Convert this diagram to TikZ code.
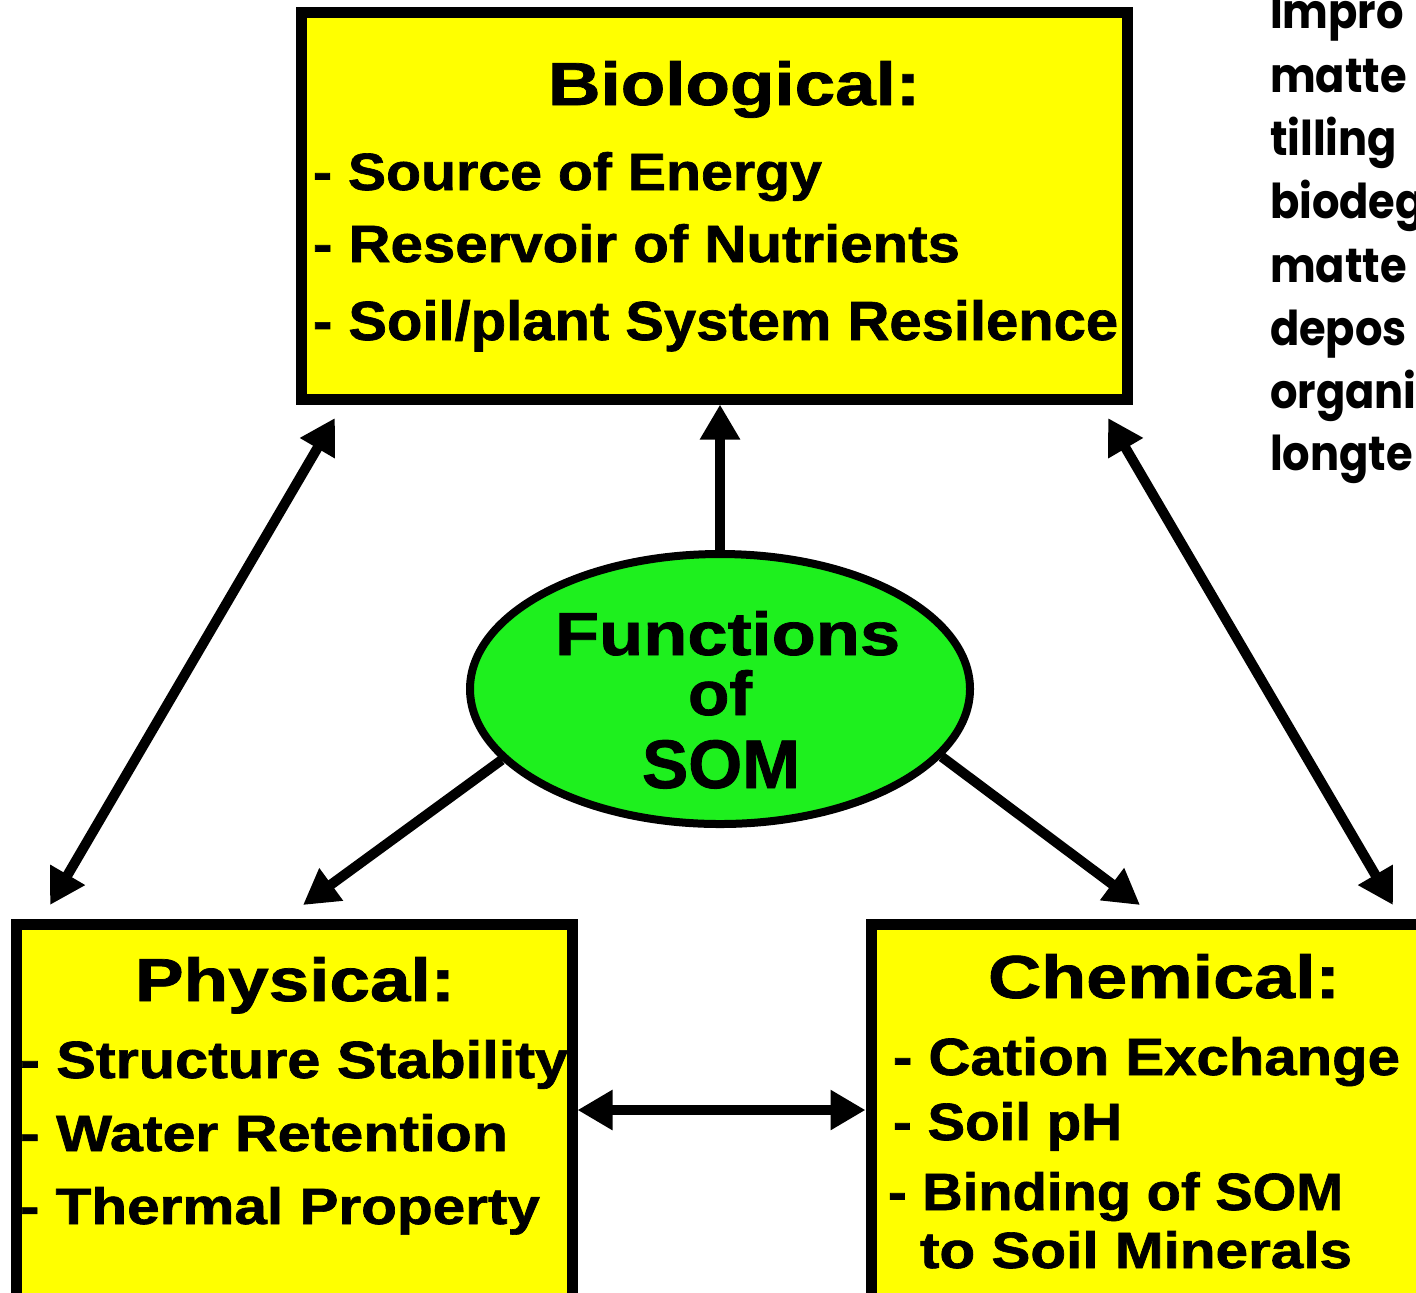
\documentclass[tikz,border=0pt]{standalone}
\usepackage{fontspec}
\usepackage{graphicx}
\usetikzlibrary{shapes.geometric,arrows.meta,calc}
\newfontfamily\boxfont{Liberation Sans}[BoldFeatures={FakeBold=1.2}]
\newfontfamily\handfont{Poppins}
\newlength\pxu \setlength\pxu{0.5pt}
\newcommand\fitt[3]{\resizebox{#1\pxu}{#2\pxu}{#3}}
\newcommand\narrow[1]{\scalebox{0.9}[1]{#1}}
\definecolor{boxyellow}{RGB}{255,255,0}
\definecolor{somgreen}{RGB}{30,240,30}
\begin{document}
\begin{tikzpicture}[x=0.5pt,y=-0.5pt,
 panel/.style={draw=black, fill=boxyellow, line width=5.5pt, inner sep=0pt, rectangle},
 somnode/.style={draw=black, fill=somgreen, line width=4pt, ellipse, inner sep=0pt, minimum width=250pt, minimum height=135pt},
 txt/.style={inner sep=0pt, outer sep=0pt, anchor=base west, font=\boxfont\bfseries},
 note/.style={inner sep=0pt, outer sep=0pt, anchor=base west, font=\handfont\bfseries\fontsize{24}{28}\selectfont},
 arr/.style={line width=5pt, -{Triangle[length=17.5pt,width=19pt]}},
 darr/.style={line width=5pt, {Triangle[length=17.5pt,width=19pt]}-{Triangle[length=17.5pt,width=19pt]}}
]
\useasboundingbox (0,0) rectangle (1416,1292);
\clip (0,0) rectangle (1416,1292);
\fill[white] (0,0) rectangle (1416,1292);

% boxes
\node[panel, minimum width=413pt, minimum height=193.5pt] (bio) at (714,205.5) {};
\node[panel, minimum width=278pt, minimum height=210pt] (phys) at (294,1134) {};
\node[panel, minimum width=300pt, minimum height=210pt] (chem) at (1171,1134) {};
\node[somnode] (som) at (720,689) {};

% connector end points
\coordinate (bioL) at ($(bio.south west)+(39.5,13.5)$);
\coordinate (physT) at ($(phys.north west)+(39.5,-13.5)$);
\coordinate (bioR) at ($(bio.south east)+(-24.5,13.5)$);
\coordinate (chemT) at ($(chem.north west)+(527.5,-13.5)$);
\coordinate (physIn) at ($(phys.north west)+(292.5,-13.5)$);
\coordinate (chemIn) at ($(chem.north west)+(274.5,-13.5)$);
\coordinate (physE) at ($(phys.north east)+(0,191.5)$);
\coordinate (chemW) at ($(chem.north west)+(0,191.5)$);

% connectors
\draw[arr] (som.north) -- (som.north |- bio.south);
\draw[arr] (som.198) -- (physIn);
\draw[arr] (som.343) -- (chemIn);
\draw[darr] (bioL) -- (physT);
\draw[darr] (bioR) -- (chemT);
\draw[darr] (physE) -- (chemW);

% biological text
\node[txt] (bioT) at (548,105) {\fitt{372}{44}{Biological:}};
\node[txt] (bio1) at (313,190) {\fitt{509}{38}{- Source of Energy}};
\node[txt] (bio2) at (313,262) {\fitt{647}{38}{- Reservoir of Nutrients}};
\node[txt] (bio3) at (313,340) {\fitt{805}{40}{- Soil/plant System Resilence}};

% physical text
\node[txt] (physTt) at (135,1001) {\fitt{320}{44}{Physical:}};
\node[txt] (phys1) at (20,1078) {\fitt{548}{38}{- Structure Stability}};
\node[txt] (phys2) at (20,1151) {\fitt{488}{37}{- Water Retention}};
\node[txt] (phys3) at (20,1224) {\fitt{520}{37}{- Thermal Property}};

% chemical text
\node[txt] (chemTt) at (988,998) {\fitt{352}{44}{Chemical:}};
\node[txt] (chem1) at (893,1075) {\fitt{507}{38}{- Cation Exchange}};
\node[txt] (chem2) at (893,1140) {\fitt{229}{38}{- Soil pH}};
\node[txt] (chem3) at (888,1210) {\fitt{455}{38}{- Binding of SOM}};
\node[txt] (chem4) at (920,1268) {\fitt{432}{37}{to Soil Minerals}};

% ellipse text
\node[txt] (somA) at (555,655) {\fitt{345}{44}{Functions}};
\node[txt] (somB) at (688,715) {\fitt{64}{45}{of}};
\node[txt] (somC) at (642,788) {\fitt{158}{48}{SOM}};

% side note (cut off at the right edge, as in the reference)
\node[note] (n1) at (1270,28) {\narrow{Impro}};
\node[note] (n2) at (1270,92) {\narrow{matte}};
\node[note] (n3) at (1270,155) {\narrow{tilling}};
\node[note] (n4) at (1270,218) {\narrow{biodeg}};
\node[note] (n5) at (1270,282) {\narrow{matte}};
\node[note] (n6) at (1270,345) {\narrow{depos}};
\node[note] (n7) at (1270,408) {\narrow{organi}};
\node[note] (n8) at (1270,470) {\narrow{longte}};
\end{tikzpicture}
\end{document}
